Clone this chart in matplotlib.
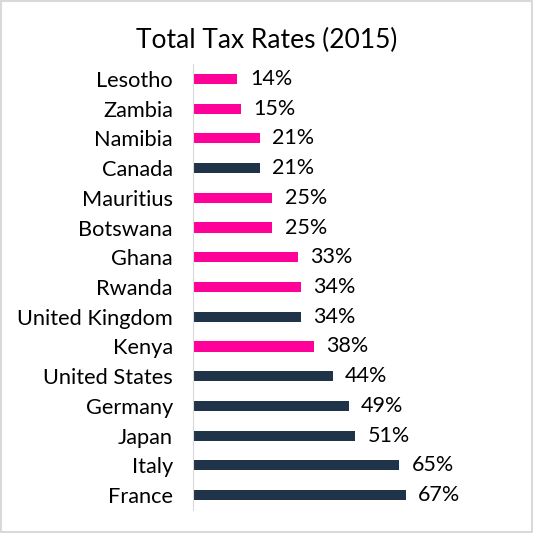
import matplotlib.pyplot as plt
from matplotlib.patches import Rectangle

plt.rcParams['font.family'] = ['Lato', 'DejaVu Sans']

# data, top to bottom as shown
countries = ['Lesotho', 'Zambia', 'Namibia', 'Canada', 'Mauritius', 'Botswana',
             'Ghana', 'Rwanda', 'United Kingdom', 'Kenya', 'United States',
             'Germany', 'Japan', 'Italy', 'France']
rates = [14, 15, 21, 21, 25, 25, 33, 34, 34, 38, 44, 49, 51, 65, 67]
african = [True, True, True, False, True, True, True, True, False, True,
           False, False, False, False, False]

pink = '#ff0099'
navy = '#1f3349'
colors = [pink if a else navy for a in african]

fig = plt.figure(figsize=(5.33, 5.33), dpi=100)
ax = fig.add_axes([193 / 533, 1 - 510 / 533, 254 / 533, 446 / 533])

ypos = list(range(len(countries)))[::-1]
ax.barh(ypos, rates, height=0.34, color=colors)
ax.set_xlim(0, 80)
ax.set_ylim(-0.5, len(countries) - 0.5)

for y, r in zip(ypos, rates):
    ax.annotate(f'{r}%', (r, y), xytext=(9, 0), textcoords='offset points',
                va='center', ha='left', fontsize=15.5, color='black')

ax.set_yticks(ypos)
ax.set_yticklabels(countries, fontsize=15.7)
ax.tick_params(axis='y', length=0, pad=14.5)
ax.set_xticks([])
for s in ['top', 'right', 'bottom']:
    ax.spines[s].set_visible(False)
ax.spines['left'].set_color('#d9d9d9')

fig.text(0.5, 1 - 40 / 533, 'Total Tax Rates (2015)', ha='center', va='center',
         fontsize=19)

# light border around the chart
fig.patches.append(Rectangle((0.002, 0.002), 0.996, 0.996, transform=fig.transFigure,
                             fill=False, edgecolor='#d9d9d9', linewidth=1.5))

fig.savefig('out.png', dpi=100)
